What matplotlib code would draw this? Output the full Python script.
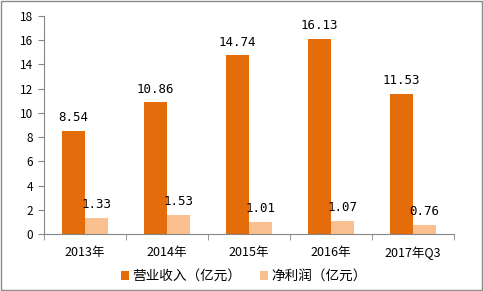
import numpy as np
import matplotlib
matplotlib.use('Agg')
import matplotlib.pyplot as plt
from matplotlib.patches import Rectangle

plt.rcParams['font.family'] = ['Noto Sans CJK SC', 'DejaVu Sans']

categories = ['2013年', '2014年', '2015年', '2016年', '2017年Q3']
revenue = [8.54, 10.86, 14.74, 16.13, 11.53]
net_profit = [1.33, 1.53, 1.01, 1.07, 0.76]
yticks = [0, 2, 4, 6, 8, 10, 12, 14, 16, 18]

ORANGE = '#E46C0A'
LIGHT = '#FAC090'

fig = plt.figure(figsize=(4.83, 2.91), dpi=100)
ax = fig.add_axes([0.0911, 0.196, 0.849, 0.749])

x = np.arange(len(categories))
w = 0.28
ax.bar(x - w / 2, revenue, w, color=ORANGE, label='营业收入（亿元）')
ax.bar(x + w / 2, net_profit, w, color=LIGHT, label='净利润（亿元）')

for xi, v in zip(x, revenue):
    ax.annotate(f'{v:.2f}', (xi - w / 2, v), xytext=(0, 5), textcoords='offset points',
                ha='center', va='bottom', fontsize=9, family='DejaVu Sans Mono')
for xi, v in zip(x, net_profit):
    ax.annotate(f'{v:.2f}', (xi + w / 2, v), xytext=(0, 5), textcoords='offset points',
                ha='center', va='bottom', fontsize=9, family='DejaVu Sans Mono')

ax.set_xlim(-0.5, len(categories) - 0.5)
ax.set_ylim(0, 18)
ax.set_yticks(yticks)
ax.tick_params(axis='y', labelsize=8.5, length=4, color='#868686', pad=4)
ax.set_xticks(x)
ax.set_xticklabels(categories, fontsize=9)
ax.tick_params(axis='x', length=0, pad=9)
ax.set_xticks(np.arange(len(categories) + 1) - 0.5, minor=True)
ax.tick_params(axis='x', which='minor', length=4, color='#868686')

for s in ['top', 'right']:
    ax.spines[s].set_visible(False)
for s in ['left', 'bottom']:
    ax.spines[s].set_color('#868686')

fig.legend(loc='lower center', bbox_to_anchor=(0.505, -0.015), ncol=2, frameon=False,
           fontsize=9.8, handlelength=0.6, handleheight=0.6, handletextpad=0.2,
           columnspacing=1.4)

fig.patches.append(Rectangle((0.002, 0.003), 0.995, 0.994, transform=fig.transFigure,
                             fill=False, edgecolor='#8c8c8c', linewidth=1))

fig.savefig('out.png', dpi=100)
